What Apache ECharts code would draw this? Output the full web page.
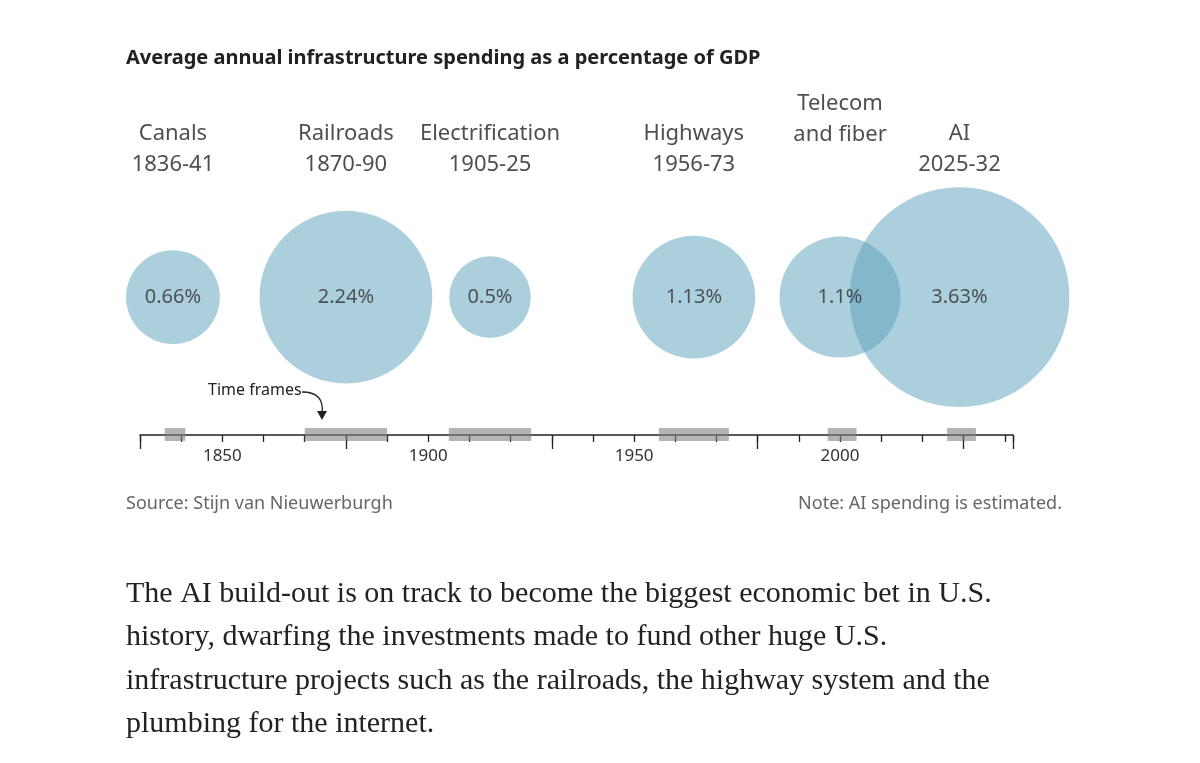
<!DOCTYPE html><html><head><meta charset="utf-8"><script src="https://cdn.jsdelivr.net/npm/echarts@6/dist/echarts.min.js"></script>
<style>body{margin:0;background:#fff}#c{width:1200px;height:763px}</style></head><body><div id="c"></div><script>
const names=['Canals\n1836-41','Railroads\n1870-90','Electrification\n1905-25','Highways\n1956-73','Telecom\nand fiber','AI\n2025-32'];
const centers=[1838,1880,1915,1964.5,2000,2029];
const values=[0.66,2.24,0.5,1.13,1.1,3.63];
const frameStart=[1836,1870,1905,1956,1997,2026];
const frameEnd=[1841,1890,1925,1973,2004,2033];
const ch=echarts.init(document.getElementById('c'));
const Y_B=0.317;
const labelY=[0.585,0.585,0.585,0.585,0.655,0.585];
ch.setOption({
animation:false,
grid:{left:140,right:187,top:0,bottom:328},
xAxis:[{type:'value',min:1830,max:2042,interval:10,
 axisLine:{lineStyle:{color:'#222',width:1.5}},axisTick:{length:7,lineStyle:{color:'#222',width:1.3}},
 axisLabel:{formatter:v=>v%50===0?String(v):'',margin:13,color:'#333',fontSize:17,fontFamily:'Noto Sans'},splitLine:{show:false}},
 {type:'value',min:1830,max:2042,interval:50,position:'bottom',axisLine:{show:false},axisLabel:{show:false},
 axisTick:{length:14,lineStyle:{color:'#222',width:1.3}},splitLine:{show:false}}],
yAxis:{type:'value',min:0,max:1,show:false},
series:[
{type:'custom',renderItem:(p,api)=>{const a=api.coord([api.value(0),0]),b=api.coord([api.value(1),0]);
 return {type:'rect',shape:{x:a[0],y:a[1]-7,width:b[0]-a[0],height:13},style:{fill:'rgba(130,130,130,0.6)'}};},
 data:frameStart.map((s,i)=>[s,frameEnd[i]]),z:1},
{type:'scatter',data:centers.map((c,i)=>[c,Y_B,values[i]]),symbolSize:d=>115.4*Math.sqrt(d[2]),
 itemStyle:{color:'rgba(95,163,188,0.66)'},
 label:{show:true,position:'inside',formatter:p=>values[p.dataIndex]+'%',color:'#333',fontSize:20,fontFamily:'Noto Sans'},z:2},
{type:'scatter',data:centers.map((c,i)=>[c,labelY[i]]),symbolSize:0,silent:true,
 label:{show:true,position:'inside',verticalAlign:'bottom',formatter:p=>names[p.dataIndex],color:'#222',fontSize:22,lineHeight:31,fontFamily:'Noto Sans',
 align:'center'}}
],
graphic:[
{type:'text',left:126,top:48,style:{text:'Average annual infrastructure spending as a percentage of GDP',font:'bold 20px "Noto Sans"',fill:'#222'}},
{type:'text',left:208,top:382,style:{text:'Time frames',font:'16px "Liberation Sans Narrow","Noto Sans"',fill:'#222'}},
{type:'bezierCurve',shape:{x1:302,y1:392,cpx1:318,cpy1:392,x2:322,y2:414,cpx2:324,cpy2:400},style:{stroke:'#222',lineWidth:1.3,fill:null}},
{type:'polygon',shape:{points:[[317,411],[327,411],[322,420]]},style:{fill:'#222'}},
{type:'text',left:126,top:495,style:{text:'Source: Stijn van Nieuwerburgh',font:'18px "Noto Sans"',fill:'#666'}},
{type:'text',right:138,top:495,style:{text:'Note: AI spending is estimated.',font:'18px "Noto Sans"',fill:'#666',align:'right'}},
{type:'text',left:126,top:572,style:{text:'The AI build-out is on track to become the biggest economic bet in U.S.\nhistory, dwarfing the investments made to fund other huge U.S.\ninfrastructure projects such as the railroads, the highway system and the\nplumbing for the internet.',font:'30px "Liberation Serif"',lineHeight:43.5,fill:'#222'}}
]});
</script></body></html>
